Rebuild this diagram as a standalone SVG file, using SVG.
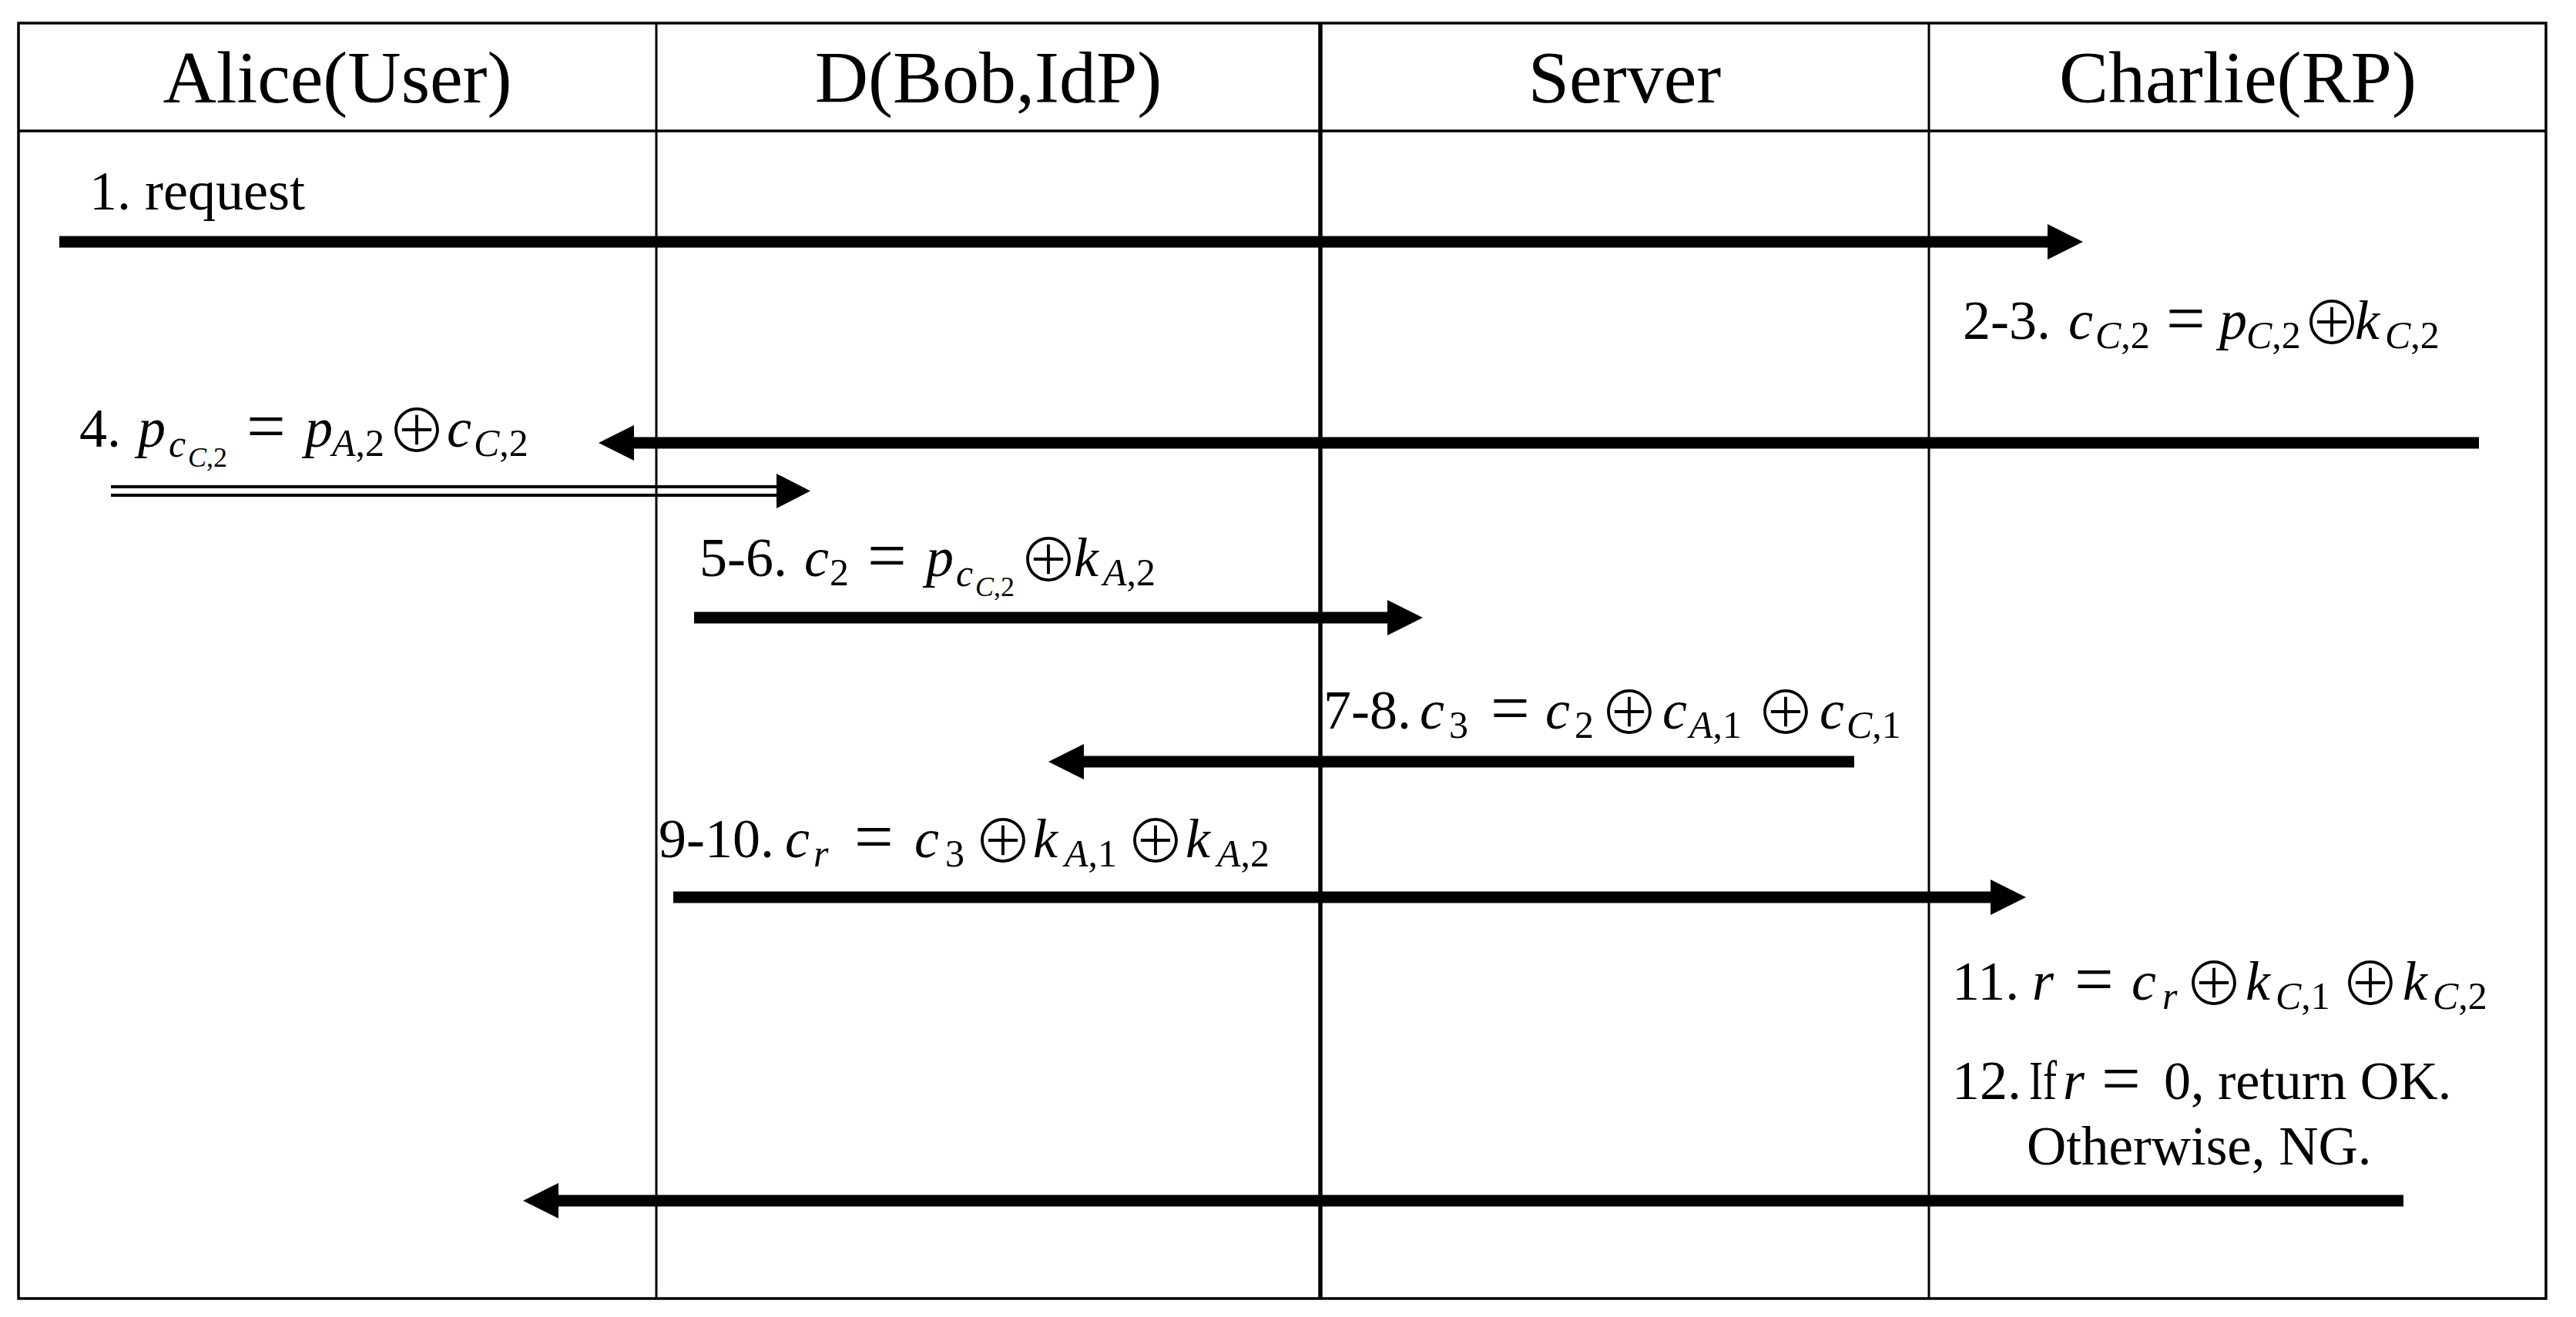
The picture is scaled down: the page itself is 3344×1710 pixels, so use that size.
<svg xmlns="http://www.w3.org/2000/svg" width="3344" height="1710" viewBox="0 0 3344 1710">
<style>
.frame{fill:none;stroke:#000;stroke-width:3.5}
.col{stroke:#000;stroke-width:3}
.colb{stroke:#000;stroke-width:5.5}
.hdr{font-family:"Liberation Serif","Times New Roman",serif;font-size:96px;fill:#000;text-anchor:middle}
.lbl{font-family:"Liberation Serif","Times New Roman",serif;font-size:72px;fill:#000}
.m{font-style:italic;font-size:72px}
.eq{font-size:90px}
.s{font-size:50px}
.ss{font-size:36px}
.i{font-style:italic}
.o{font-family:"Noto Sans CJK JP","Noto Sans CJK SC","DejaVu Sans",sans-serif;font-size:78px;font-style:normal;font-weight:300}
.arr{stroke:#000;stroke-width:15;fill:none}
.dbl{stroke:#000;stroke-width:4;fill:none}
</style>
<defs>
<marker id="ah" markerUnits="userSpaceOnUse" markerWidth="48" markerHeight="48" refX="0" refY="23" orient="auto" overflow="visible">
<path d="M0,0 L46,23 L0,46 Z" fill="#000"/>
</marker>
</defs>
<rect width="3344" height="1710" fill="#fff"/>
<g id="frame">
<rect class="frame" x="24" y="30" width="3281" height="1656"/>
<line class="frame" x1="24" y1="170" x2="3305" y2="170"/>
<line class="col" x1="852" y1="30" x2="852" y2="1686"/>
<line class="colb" x1="1714" y1="30" x2="1714" y2="1686"/>
<line class="col" x1="2504" y1="30" x2="2504" y2="1686"/>
</g>
<g id="alice"><text class="hdr" x="438" y="133">Alice(User)</text></g>
<g id="bob"><text class="hdr" x="1283" y="133">D(Bob,IdP)</text></g>
<g id="server"><text class="hdr" x="2109" y="133">Server</text></g>
<g id="charlie"><text class="hdr" x="2905" y="133">Charlie(RP)</text></g>
<g id="connectors">
<line class="arr" x1="77" y1="314" x2="2658" y2="314" marker-end="url(#ah)"/>
<line class="arr" x1="3218" y1="575" x2="823" y2="575" marker-end="url(#ah)"/>
<line class="dbl" x1="144" y1="632" x2="1010" y2="632"/>
<line class="dbl" x1="144" y1="643" x2="1010" y2="643"/>
<path d="M1008,615 L1052,637.5 L1008,660 Z" fill="#000"/>
<line class="arr" x1="901" y1="802" x2="1801" y2="802" marker-end="url(#ah)"/>
<line class="arr" x1="2407" y1="989" x2="1407" y2="989" marker-end="url(#ah)"/>
<line class="arr" x1="874" y1="1165" x2="2584" y2="1165" marker-end="url(#ah)"/>
<line class="arr" x1="3120" y1="1559" x2="725" y2="1559" marker-end="url(#ah)"/>
</g>
<g id="label1"><text class="lbl" x="116" y="272">1. request</text></g>
<g id="label2-3"><text class="lbl"><tspan x="2548" y="440">2-3.</tspan><tspan class="m" x="2685" y="440">c</tspan><tspan class="s" x="2720" y="452"><tspan class="i">C</tspan>,2</tspan><tspan class="eq" x="2812" y="444">=</tspan><tspan class="m" x="2881" y="440">p</tspan><tspan class="s" x="2916" y="452"><tspan class="i">C</tspan>,2</tspan><tspan class="o" x="2988" y="448">⊕</tspan><tspan class="m" x="3057" y="440">k</tspan><tspan class="s" x="3096" y="452"><tspan class="i">C</tspan>,2</tspan></text></g>
<g id="label4"><text class="lbl"><tspan x="103" y="580">4.</tspan><tspan class="m" x="179" y="580">p</tspan><tspan class="s i" x="219" y="593">c</tspan><tspan class="ss" x="244" y="606"><tspan class="i">C</tspan>,2</tspan><tspan class="eq" x="320" y="584">=</tspan><tspan class="m" x="396" y="580">p</tspan><tspan class="s" x="431" y="592"><tspan class="i">A</tspan>,2</tspan><tspan class="o" x="502" y="588">⊕</tspan><tspan class="m" x="580" y="580">c</tspan><tspan class="s" x="615" y="592"><tspan class="i">C</tspan>,2</tspan></text></g>
<g id="label5-6"><text class="lbl"><tspan x="908" y="748">5-6.</tspan><tspan class="m" x="1044" y="748">c</tspan><tspan class="s" x="1077" y="760">2</tspan><tspan class="eq" x="1126" y="752">=</tspan><tspan class="m" x="1202" y="748">p</tspan><tspan class="s i" x="1241" y="761">c</tspan><tspan class="ss" x="1266" y="774"><tspan class="i">C</tspan>,2</tspan><tspan class="o" x="1322" y="756">⊕</tspan><tspan class="m" x="1394" y="748">k</tspan><tspan class="s" x="1432" y="760"><tspan class="i">A</tspan>,2</tspan></text></g>
<g id="label7-8"><text class="lbl"><tspan x="1718" y="946">7-8.</tspan><tspan class="m" x="1843" y="946">c</tspan><tspan class="s" x="1881" y="958">3</tspan><tspan class="eq" x="1935" y="950">=</tspan><tspan class="m" x="2006" y="946">c</tspan><tspan class="s" x="2044" y="958">2</tspan><tspan class="o" x="2076" y="954">⊕</tspan><tspan class="m" x="2158" y="946">c</tspan><tspan class="s" x="2193" y="958"><tspan class="i">A</tspan>,1</tspan><tspan class="o" x="2279" y="954">⊕</tspan><tspan class="m" x="2362" y="946">c</tspan><tspan class="s" x="2397" y="958"><tspan class="i">C</tspan>,1</tspan></text></g>
<g id="label9-10"><text class="lbl"><tspan x="855" y="1113">9-10.</tspan><tspan class="m" x="1019" y="1113">c</tspan><tspan class="s i" x="1056" y="1125">r</tspan><tspan class="eq" x="1109" y="1117">=</tspan><tspan class="m" x="1187" y="1113">c</tspan><tspan class="s" x="1227" y="1125">3</tspan><tspan class="o" x="1263" y="1121">⊕</tspan><tspan class="m" x="1341" y="1113">k</tspan><tspan class="s" x="1382" y="1125"><tspan class="i">A</tspan>,1</tspan><tspan class="o" x="1461" y="1121">⊕</tspan><tspan class="m" x="1539" y="1113">k</tspan><tspan class="s" x="1580" y="1125"><tspan class="i">A</tspan>,2</tspan></text></g>
<g id="label11"><text class="lbl"><tspan x="2534" y="1298">11.</tspan><tspan class="m" x="2638" y="1298">r</tspan><tspan class="eq" x="2693" y="1302">=</tspan><tspan class="m" x="2767" y="1298">c</tspan><tspan class="s i" x="2807" y="1310">r</tspan><tspan class="o" x="2835" y="1306">⊕</tspan><tspan class="m" x="2915" y="1298">k</tspan><tspan class="s" x="2954" y="1310"><tspan class="i">C</tspan>,1</tspan><tspan class="o" x="3038" y="1306">⊕</tspan><tspan class="m" x="3119" y="1298">k</tspan><tspan class="s" x="3158" y="1310"><tspan class="i">C</tspan>,2</tspan></text></g>
<g id="label12"><text class="lbl"><tspan x="2534" y="1427">12.</tspan><tspan class="m" x="2678" y="1427">r</tspan><tspan class="eq" x="2728" y="1431">=</tspan><tspan x="2809" y="1427" style="font-size:70px">0, return OK.</tspan><tspan x="2631" y="1512" style="font-size:71px">Otherwise, NG.</tspan></text><text class="lbl" x="2634" y="1427" textLength="36" lengthAdjust="spacingAndGlyphs">If</text></g>
</svg>
